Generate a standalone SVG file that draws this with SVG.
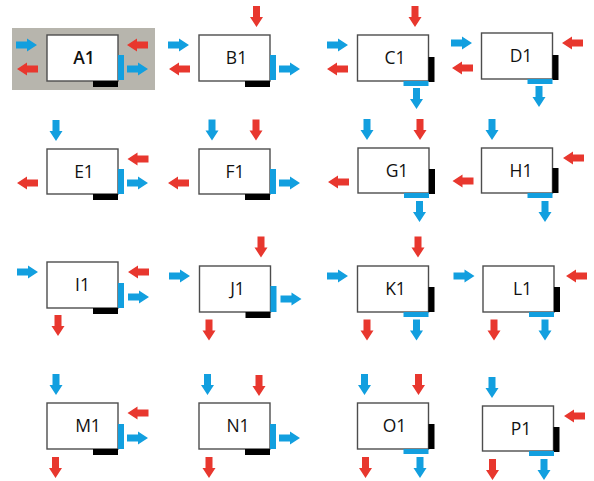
<svg xmlns="http://www.w3.org/2000/svg" xmlns:xlink="http://www.w3.org/1999/xlink" width="594" height="481" viewBox="0 0 594 481">
<style>
.box{fill:#fff;stroke:#4d4d4d;stroke-width:1.4}
.bb{fill:#129fdf}
.bk{fill:#000}
.b{fill:#129fdf}
.r{fill:#e8372e}
.t{font-family:"Open Sans","Liberation Sans",sans-serif;font-size:17.5px;fill:#111;text-anchor:middle}
.bold{font-weight:600}
</style>
<defs>
<path id="ar" d="M0,-3.5H11V-6.5L21,0L11,6.5V3.5H0Z"/>
<path id="al" d="M21,-3.5H10V-6.5L0,0L10,6.5V3.5H21Z"/>
<path id="ad" d="M-3.5,0V11H-6.5L0,21L6.5,11H3.5V0Z"/>
</defs>
<rect width="594" height="481" fill="#fff"/>

<g id="A1">
<rect x="12" y="28" width="143" height="62" fill="#b7b5ad"/>
<rect class="box" x="47" y="35" width="71" height="46"/>
<rect class="bb" x="118" y="55" width="6" height="25"/>
<rect class="bk" x="93" y="81" width="25" height="6"/>
<text class="t bold" x="84" y="64">A1</text>
</g>
<g id="B1">
<rect class="box" x="199" y="35" width="71" height="46"/>
<rect class="bb" x="270" y="55" width="6" height="25"/>
<rect class="bk" x="245" y="81" width="25" height="6"/>
<text class="t" x="236.5" y="64">B1</text>
</g>
<g id="C1">
<rect class="box" x="357.5" y="35" width="71" height="46"/>
<rect class="bk" x="428.5" y="57" width="6" height="25"/>
<rect class="bb" x="403.5" y="81" width="25" height="5"/>
<text class="t" x="395" y="64">C1</text>
</g>
<g id="D1">
<rect class="box" x="481.5" y="33" width="71" height="46"/>
<rect class="bk" x="552.5" y="55" width="6" height="25"/>
<rect class="bb" x="527.5" y="79" width="25" height="5"/>
<text class="t" x="521" y="62">D1</text>
</g>

<g id="E1">
<rect class="box" x="47" y="149" width="71" height="45"/>
<rect class="bb" x="118" y="169" width="6" height="25"/>
<rect class="bk" x="93" y="194" width="25" height="6"/>
<text class="t" x="84" y="178">E1</text>
</g>
<g id="F1">
<rect class="box" x="199" y="149" width="71" height="45"/>
<rect class="bb" x="270" y="169" width="6" height="25"/>
<rect class="bk" x="245" y="194" width="25" height="6"/>
<text class="t" x="235" y="178">F1</text>
</g>
<g id="G1">
<rect class="box" x="358" y="148" width="71" height="45"/>
<rect class="bk" x="429" y="169" width="6" height="25"/>
<rect class="bb" x="404" y="193" width="25" height="5"/>
<text class="t" x="397" y="177">G1</text>
</g>
<g id="H1">
<rect class="box" x="481.5" y="148" width="71" height="45"/>
<rect class="bk" x="552.5" y="168" width="6" height="25"/>
<rect class="bb" x="527.5" y="193" width="25" height="5"/>
<text class="t" x="521" y="177">H1</text>
</g>

<g id="I1">
<rect class="box" x="47" y="262" width="71" height="46"/>
<rect class="bb" x="118" y="283" width="6" height="25"/>
<rect class="bk" x="93" y="308" width="25" height="6"/>
<text class="t" x="82.5" y="291">I1</text>
</g>
<g id="J1">
<rect class="box" x="199.5" y="266" width="71" height="46"/>
<rect class="bb" x="270.5" y="286" width="6" height="26"/>
<rect class="bk" x="245.5" y="312" width="25" height="6"/>
<text class="t" x="237.5" y="295">J1</text>
</g>
<g id="K1">
<rect class="box" x="357.5" y="266" width="71" height="46"/>
<rect class="bk" x="428.5" y="287" width="6" height="25"/>
<rect class="bb" x="403.5" y="312" width="25" height="5"/>
<text class="t" x="395.5" y="295">K1</text>
</g>
<g id="L1">
<rect class="box" x="483" y="266" width="71" height="46"/>
<rect class="bk" x="554" y="287" width="6" height="25"/>
<rect class="bb" x="529" y="312" width="25" height="5"/>
<text class="t" x="522.5" y="295">L1</text>
</g>

<g id="M1">
<rect class="box" x="47" y="403" width="71" height="46"/>
<rect class="bb" x="118" y="424" width="6" height="25"/>
<rect class="bk" x="93" y="449" width="25" height="6"/>
<text class="t" x="88" y="432">M1</text>
</g>
<g id="N1">
<rect class="box" x="199" y="403" width="71" height="46"/>
<rect class="bb" x="270" y="424" width="6" height="25"/>
<rect class="bk" x="245" y="449" width="25" height="6"/>
<text class="t" x="238" y="432">N1</text>
</g>
<g id="O1">
<rect class="box" x="357.5" y="403" width="71" height="46"/>
<rect class="bk" x="428.5" y="424" width="6" height="25"/>
<rect class="bb" x="403.5" y="449" width="25" height="5"/>
<text class="t" x="394.5" y="432">O1</text>
</g>
<g id="P1">
<rect class="box" x="482.5" y="406" width="71" height="45"/>
<rect class="bk" x="553.5" y="427" width="6" height="25"/>
<rect class="bb" x="529" y="451" width="25" height="5"/>
<text class="t" x="521" y="435">P1</text>
</g>

<g id="connectors">
<!-- A1 -->
<use href="#ar" class="b" x="16" y="45"/>
<use href="#al" class="r" x="17" y="69"/>
<use href="#al" class="r" x="127" y="45"/>
<use href="#ar" class="b" x="127" y="69"/>
<!-- B1 -->
<use href="#ad" class="r" x="256.5" y="6"/>
<use href="#ar" class="b" x="168" y="45"/>
<use href="#al" class="r" x="169" y="69"/>
<use href="#ar" class="b" x="279" y="69"/>
<!-- C1 -->
<use href="#ad" class="r" x="415" y="6"/>
<use href="#ar" class="b" x="327" y="45"/>
<use href="#al" class="r" x="327" y="69"/>
<use href="#ad" class="b" x="416.5" y="88"/>
<!-- D1 -->
<use href="#ar" class="b" x="451" y="43"/>
<use href="#al" class="r" x="452" y="68"/>
<use href="#al" class="r" x="562" y="43"/>
<use href="#ad" class="b" x="539" y="86"/>
<!-- E1 -->
<use href="#ad" class="b" x="56" y="120"/>
<use href="#al" class="r" x="127.5" y="159"/>
<use href="#al" class="r" x="17" y="183"/>
<use href="#ar" class="b" x="127" y="183"/>
<!-- F1 -->
<use href="#ad" class="b" x="212" y="119.5"/>
<use href="#ad" class="r" x="256" y="119.5"/>
<use href="#al" class="r" x="168" y="183"/>
<use href="#ar" class="b" x="279" y="183"/>
<!-- G1 -->
<use href="#ad" class="b" x="367" y="119"/>
<use href="#ad" class="r" x="420" y="119"/>
<use href="#al" class="r" x="328" y="182"/>
<use href="#ad" class="b" x="419.5" y="201"/>
<!-- H1 -->
<use href="#ad" class="b" x="492" y="119"/>
<use href="#al" class="r" x="563" y="158"/>
<use href="#al" class="r" x="452.5" y="181"/>
<use href="#ad" class="b" x="545" y="201"/>
<!-- I1 -->
<use href="#ar" class="b" x="17" y="272"/>
<use href="#al" class="r" x="128" y="272"/>
<use href="#ar" class="b" x="128" y="297"/>
<use href="#ad" class="r" x="58" y="315"/>
<!-- J1 -->
<use href="#ad" class="r" x="261" y="236.5"/>
<use href="#ar" class="b" x="169" y="276"/>
<use href="#ar" class="b" x="280.5" y="299"/>
<use href="#ad" class="r" x="209" y="319.5"/>
<!-- K1 -->
<use href="#ad" class="r" x="418" y="236.5"/>
<use href="#ar" class="b" x="327" y="276"/>
<use href="#ad" class="r" x="367" y="319.5"/>
<use href="#ad" class="b" x="416.5" y="319.5"/>
<!-- L1 -->
<use href="#ar" class="b" x="453.5" y="276"/>
<use href="#al" class="r" x="566" y="276"/>
<use href="#ad" class="r" x="494" y="319.5"/>
<use href="#ad" class="b" x="545" y="319.5"/>
<!-- M1 -->
<use href="#ad" class="b" x="56" y="374"/>
<use href="#al" class="r" x="127.5" y="413"/>
<use href="#ar" class="b" x="127" y="438"/>
<use href="#ad" class="r" x="55.5" y="457"/>
<!-- N1 -->
<use href="#ad" class="b" x="207.5" y="374"/>
<use href="#ad" class="r" x="259" y="375"/>
<use href="#ar" class="b" x="279" y="438"/>
<use href="#ad" class="r" x="209" y="457"/>
<!-- O1 -->
<use href="#ad" class="b" x="364.5" y="374"/>
<use href="#ad" class="r" x="418.5" y="374"/>
<use href="#ad" class="r" x="365.5" y="457"/>
<use href="#ad" class="b" x="420" y="457"/>
<!-- P1 -->
<use href="#ad" class="b" x="492" y="377"/>
<use href="#al" class="r" x="564" y="416"/>
<use href="#ad" class="r" x="492.5" y="459"/>
<use href="#ad" class="b" x="544" y="459"/>
</g>
</svg>
